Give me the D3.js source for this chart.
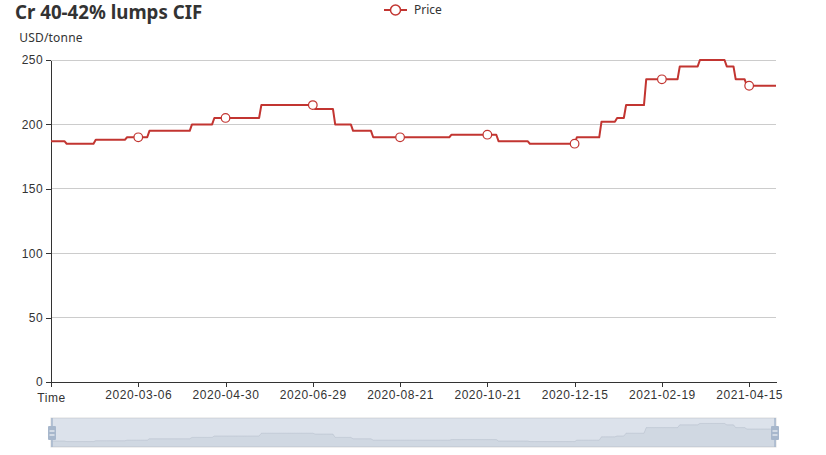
<!DOCTYPE html>
<html><head><meta charset="utf-8">
<script src="https://cdn.jsdelivr.net/npm/d3@7"></script>
<style>
body{margin:0;background:#fff}
svg{display:block;font-family:"Noto Sans","Open Sans",sans-serif}
</style>
</head><body>
<svg id="c" width="826" height="455"></svg>
<script>
// ---------- data ----------
const chartTitle = "Cr 40-42% lumps CIF";
const seriesName = "Price";
const yAxisName = "USD/tonne";
const xAxisName = "Time";
const firstDay = "2019-12-27";
const lastDay = "2021-04-30";
// trading calendar: weekdays without holidays, plus make-up working days
const holidays = [
  "2020-01-01","2020-01-24","2020-01-27","2020-01-28","2020-01-29","2020-01-30","2020-01-31",
  "2020-02-03","2020-02-04","2020-02-05","2020-02-06","2020-02-07","2020-04-06",
  "2020-05-01","2020-05-04","2020-05-05","2020-06-25","2020-06-26",
  "2020-10-01","2020-10-02","2020-10-05","2020-10-06","2020-10-07","2020-10-08",
  "2021-01-01","2021-02-08","2021-02-09","2021-02-10","2021-02-11","2021-02-12",
  "2021-02-15","2021-02-16","2021-02-17","2021-04-05"
];
const extraWorkdays = ["2020-01-19","2020-04-26","2020-05-09","2020-06-28","2020-09-27","2020-10-10","2021-02-20","2021-04-25"];
// price changes: [date from which the price applies, price]
const changeDates = ["2019-12-27","2020-01-08","2020-02-10","2020-02-28","2020-03-13","2020-04-10","2020-04-24",
  "2020-05-26","2020-06-30","2020-07-13","2020-07-23","2020-08-05","2020-09-23","2020-10-28","2020-11-17",
  "2020-12-16","2020-12-31","2021-01-12","2021-01-18","2021-01-29","2021-03-02","2021-03-15","2021-03-31",
  "2021-04-07","2021-04-14"];
const changePrices = [187,185,188,190,195,200,205,
  215,212,200,195,190,192,187,185,
  190,202,205,215,235,245,250,245,
  235,230];
const tickLabels = ["2020-03-06","2020-04-30","2020-06-29","2020-08-21","2020-10-21","2020-12-15","2021-02-19","2021-04-15"];
const yTicks = [0,50,100,150,200,250];

// ---------- build ----------
const fmt = d3.timeFormat("%Y-%m-%d"), parse = d3.timeParse("%Y-%m-%d");
const hol = new Set(holidays), extra = new Set(extraWorkdays);
const categories = d3.timeDay.range(parse(firstDay), d3.timeDay.offset(parse(lastDay),1))
  .map(fmt)
  .filter(s => { const wd = parse(s).getDay(); return extra.has(s) || (wd !== 0 && wd !== 6 && !hol.has(s)); });
const data = categories.map(c => {
  let v = null;
  changeDates.forEach((d,i) => { if (d <= c) v = changePrices[i]; });
  return {date: c, value: v};
});

const color = "#c23531", textColor = "#333";
const L = 51, R = 776, T = 60, B = 382;
const svg = d3.select("#c");
const x = d3.scalePoint().domain(categories).range([L, R]);
const y = d3.scaleLinear().domain([0, 250]).range([B, T]);

// title
svg.append("text").attr("x", 15).attr("y", 19).attr("font-size", 18.7).attr("font-weight", "bold")
  .attr("fill", textColor).text(chartTitle);

// legend
const lg = svg.append("g");
lg.append("line").attr("x1", 384).attr("x2", 407).attr("y1", 10).attr("y2", 10).attr("stroke", color).attr("stroke-width", 2);
lg.append("circle").attr("cx", 395.5).attr("cy", 10).attr("r", 5).attr("fill", "#fff").attr("stroke", color).attr("stroke-width", 1.5);
lg.append("text").attr("x", 414).attr("y", 10).attr("dy", "0.35em").attr("font-size", 12).attr("fill", textColor).text(seriesName);

// grid
svg.append("g").selectAll("line").data(yTicks.filter(t => t > 0)).join("line")
  .attr("x1", L).attr("x2", R).attr("y1", d => y(d)).attr("y2", d => y(d))
  .attr("stroke", "#ccc").attr("stroke-width", 1).attr("shape-rendering", "crispEdges");

// y axis
const ya = svg.append("g").attr("transform", `translate(${L},0)`)
  .call(d3.axisLeft(y).tickValues(yTicks).tickSize(5).tickSizeOuter(0).tickPadding(3));
ya.selectAll("path,line").attr("stroke", textColor).attr("shape-rendering", "crispEdges");
ya.selectAll("text").attr("fill", textColor).attr("font-size", 12).attr("font-family", null).attr("letter-spacing", 0.4);
svg.append("text").attr("x", L).attr("y", 42).attr("text-anchor", "middle").attr("font-size", 12)
  .attr("letter-spacing", 0.2).attr("fill", textColor).text(yAxisName);

// x axis
const xa = svg.append("g").attr("transform", `translate(0,${B})`)
  .call(d3.axisBottom(x).tickValues([categories[0], ...tickLabels]).tickSize(5).tickSizeOuter(0).tickPadding(3)
    .tickFormat(d => d === categories[0] ? xAxisName : d));
xa.selectAll("path,line").attr("stroke", textColor).attr("shape-rendering", "crispEdges");
xa.selectAll("text").attr("fill", textColor).attr("font-size", 12).attr("font-family", null).attr("letter-spacing", 0.55);
xa.selectAll(".tick text").filter(d => d === categories[0]).attr("y", 11);

// line
svg.append("path").datum(data)
  .attr("d", d3.line().x(d => x(d.date)).y(d => y(d.value)))
  .attr("fill", "none").attr("stroke", color).attr("stroke-width", 2).attr("stroke-linejoin", "round");

// symbols
const byDate = new Map(data.map(d => [d.date, d.value]));
svg.append("g").selectAll("circle").data(tickLabels).join("circle")
  .attr("cx", d => x(d)).attr("cy", d => y(byDate.get(d))).attr("r", 4.3)
  .attr("fill", "#fff").attr("stroke", color).attr("stroke-width", 1.2);

// data zoom slider
const sT = 418, sB = 447;
const ext = d3.extent(data, d => d.value), pad = (ext[1] - ext[0]) * 0.3;
const sy = d3.scaleLinear().domain([ext[0] - pad, ext[1] + pad]).range([sB, sT]);
const dz = svg.append("g");
dz.append("rect").attr("x", L).attr("y", sT).attr("width", R - L).attr("height", sB - sT)
  .attr("fill", "none").attr("stroke", "#ddd");
dz.append("path").datum(data)
  .attr("d", d3.area().x(d => x(d.date)).y0(sB).y1(d => sy(d.value)))
  .attr("fill", "rgba(47,69,84,0.09)");
dz.append("path").datum(data)
  .attr("d", d3.line().x(d => x(d.date)).y(d => sy(d.value)))
  .attr("fill", "none").attr("stroke", "rgba(47,69,84,0.3)").attr("stroke-width", 0.5);
dz.append("rect").attr("x", L).attr("y", sT).attr("width", R - L).attr("height", sB - sT)
  .attr("fill", "rgba(167,183,204,0.4)");
[L + 1, R - 1].forEach(hx => {
  dz.append("line").attr("x1", hx).attr("x2", hx).attr("y1", sT).attr("y2", sB)
    .attr("stroke", "#a7b7cc").attr("stroke-width", 1.5);
  dz.append("rect").attr("x", hx - 4).attr("y", 426).attr("width", 8).attr("height", 14).attr("rx", 1)
    .attr("fill", "#a7b7cc");
  [431, 435].forEach(ly => dz.append("line").attr("x1", hx - 2.5).attr("x2", hx + 2.5)
    .attr("y1", ly).attr("y2", ly).attr("stroke", "#fff").attr("stroke-width", 1));
});
</script>
</body></html>
